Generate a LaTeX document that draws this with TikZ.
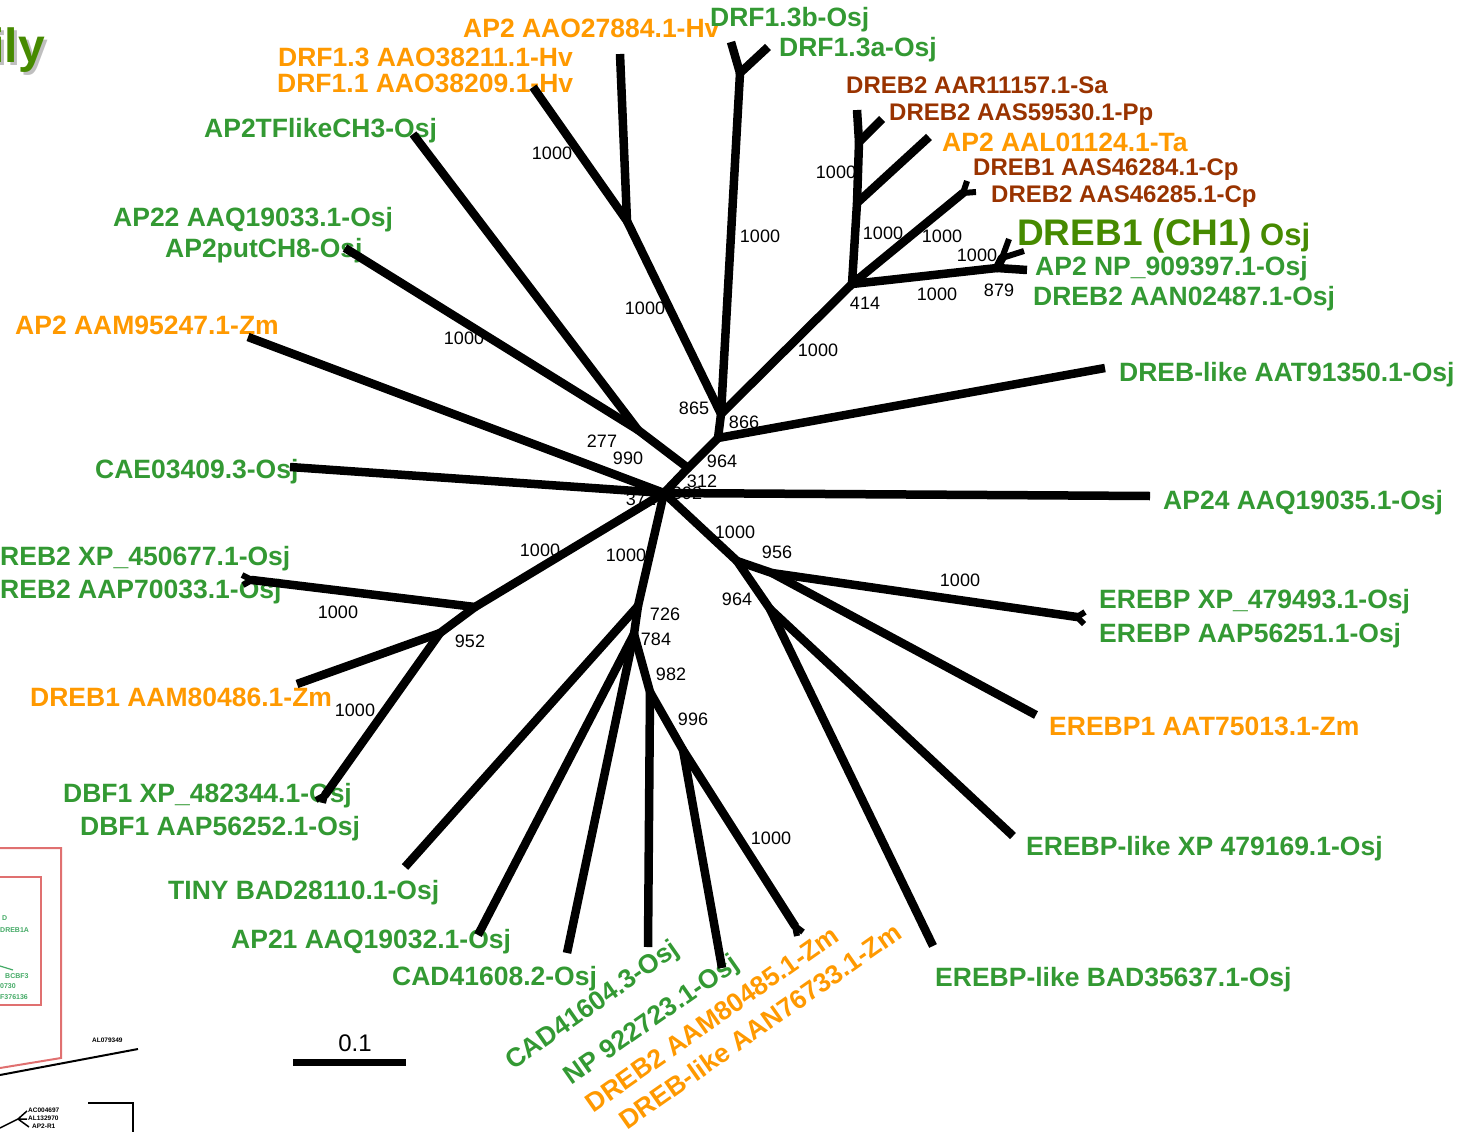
\documentclass[tikz,border=0pt]{standalone}
\usepackage{fontspec}
\setmainfont{Liberation Sans}
\definecolor{taxgreen}{HTML}{339933}
\definecolor{taxorange}{HTML}{FF9900}
\definecolor{taxbrown}{HTML}{993300}
\definecolor{leadgreen}{HTML}{468A00}
\definecolor{framered}{HTML}{E07070}
\definecolor{insetgreen}{HTML}{44AA66}

\begin{document}
\begin{tikzpicture}[x=1pt,y=-1pt,
  branch/.style={line width=8.5pt},
  stub/.style={line width=6pt},
  knot/.style={fill=black},
  taxon/.style={inner sep=0pt, anchor=base west, font=\bfseries\fontsize{26.5}{30}\selectfont},
  taxsmall/.style={inner sep=0pt, anchor=base west, font=\bfseries\fontsize{24}{28}\selectfont},
  tilted/.style={inner sep=0pt, anchor=center, rotate=35, font=\bfseries\fontsize{26.5}{30}\selectfont},
  boot/.style={inner sep=0pt, anchor=center, font=\fontsize{18}{20}\selectfont},
  tiny/.style={inner sep=0pt, anchor=west, font=\bfseries\fontsize{7}{8}\selectfont},
  rice/.style={text=taxgreen}, maize/.style={text=taxorange}, dicot/.style={text=taxbrown}]

\useasboundingbox (0,0) rectangle (1464,1132);

% ---------- title fragment ----------
\node[inner sep=0pt, anchor=base east, text=black!25, font=\bfseries\fontsize{48}{50}\selectfont] (ttlshadow) at (48,66) {ily};
\node[inner sep=0pt, anchor=base east, text=leadgreen, font=\bfseries\fontsize{48}{50}\selectfont] (ttl) at (45,63) {ily};

% ---------- inset fragment, lower left ----------
\coordinate (fa) at (0,848);  \coordinate (fb) at (61,848);
\coordinate (fc) at (61,1058); \coordinate (fd) at (0,1068);
\draw[framered, line width=2pt] (fa) -- (fb) -- (fc) -- (fd);
\coordinate (ga) at (0,877);  \coordinate (gb) at (41,877);
\coordinate (gc) at (41,1005); \coordinate (gd) at (0,1005);
\draw[framered, line width=1.3pt] (ga) -- (gb) -- (gc) -- (gd);
\node[tiny, text=insetgreen] (i1) at (2,918) {D};
\node[tiny, text=insetgreen] (i2) at (0,930) {DREB1A};
\node[tiny, text=insetgreen] (i3) at (5,976) {BCBF3};
\node[tiny, text=insetgreen] (i4) at (0,986) {0730};
\node[tiny, text=insetgreen] (i5) at (0,997) {F376136};
\coordinate (ia) at (0,966); \coordinate (ib) at (13,970);
\draw[insetgreen, line width=1.2pt] (ia) -- (ib);
\coordinate (la) at (0,1075); \coordinate (lb) at (138,1049);
\draw[black, line width=2pt] (la) -- (lb);
\node[tiny, text=black, font=\bfseries\fontsize{6.5}{7}\selectfont] (i6) at (92,1040) {AL079349};
\coordinate (ka) at (88,1103); \coordinate (kb) at (133,1103); \coordinate (kc) at (133,1132);
\draw[black, line width=2pt] (ka) -- (kb) -- (kc);
\node[tiny, text=black, font=\bfseries\fontsize{6.5}{7}\selectfont] (i7) at (28,1110) {AC004697};
\node[tiny, text=black, font=\bfseries\fontsize{6.5}{7}\selectfont] (i8) at (28,1118) {AL132970};
\node[tiny, text=black, font=\bfseries\fontsize{6.5}{7}\selectfont] (i9) at (32,1126) {AP2-R1};
\coordinate (ma) at (0,1128); \coordinate (mb) at (18,1119);
\coordinate (mc) at (27,1111); \coordinate (md) at (27,1119); \coordinate (me) at (29,1127);
\draw[black, line width=1.5pt] (ma) -- (mb) -- (mc) (mb) -- (md) (mb) -- (me);

% ---------- bootstrap values ----------
\node[boot] (b01) at (552,153) {1000};
\node[boot] (b02) at (760,236) {1000};
\node[boot] (b03) at (836,172) {1000};
\node[boot] (b04) at (883,233) {1000};
\node[boot] (b05) at (942,236) {1000};
\node[boot] (b06) at (977,255) {1000};
\node[boot] (b07) at (999,290) {879};
\node[boot] (b08) at (937,294) {1000};
\node[boot] (b09) at (865,303) {414};
\node[boot] (b10) at (645,308) {1000};
\node[boot] (b11) at (818,350) {1000};
\node[boot] (b12) at (464,338) {1000};
\node[boot] (b13) at (694,408) {865};
\node[boot] (b14) at (744,422) {866};
\node[boot] (b15) at (602,441) {277};
\node[boot] (b16) at (628,458) {990};
\node[boot] (b17) at (722,461) {964};
\node[boot] (b18) at (702,481) {312};
\node[boot] (b19) at (641,499) {372};
\node[boot] (b20) at (687,493) {392};
\node[boot] (b21) at (540,550) {1000};
\node[boot] (b22) at (626,555) {1000};
\node[boot] (b23) at (735,532) {1000};
\node[boot] (b24) at (777,552) {956};
\node[boot] (b25) at (960,580) {1000};
\node[boot] (b26) at (737,599) {964};
\node[boot] (b27) at (665,614) {726};
\node[boot] (b28) at (656,639) {784};
\node[boot] (b29) at (338,612) {1000};
\node[boot] (b30) at (470,641) {952};
\node[boot] (b31) at (671,674) {982};
\node[boot] (b32) at (355,710) {1000};
\node[boot] (b33) at (693,719) {996};
\node[boot] (b34) at (771,838) {1000};

% ---------- taxon labels ----------
\node[taxon, maize] (lAAO)   at (463,37.5)  {AP2 AAO27884.1-Hv};
\node[taxon, maize] (lDRF13) at (278,66.5)  {DRF1.3 AAO38211.1-Hv};
\node[taxon, maize] (lDRF11) at (277,92.5)  {DRF1.1 AAO38209.1-Hv};
\node[taxon, rice]  (lDRFb)  at (710,26.5)  {DRF1.3b-Osj};
\node[taxon, rice]  (lDRFa)  at (779,56.5)  {DRF1.3a-Osj};
\node[taxon, rice]  (lTF)    at (204,137.5) {AP2TFlikeCH3-Osj};
\node[taxon, rice]  (lAP22)  at (113,226.5) {AP22 AAQ19033.1-Osj};
\node[taxon, rice]  (lPut)   at (165,257.5) {AP2putCH8-Osj};
\node[taxon, maize] (lZm95)  at (15,334.5)  {AP2 AAM95247.1-Zm};
\node[taxon, rice]  (lCAE)   at (95,478.5)  {CAE03409.3-Osj};
\node[taxon, rice]  (lX450)  at (0,565.5)   {REB2 XP\_450677.1-Osj};
\node[taxon, rice]  (lAAP7)  at (0,598.5)   {REB2 AAP70033.1-Osj};
\node[taxon, maize] (lZm86)  at (30,706.5)  {DREB1 AAM80486.1-Zm};
\node[taxon, rice]  (lDBFx)  at (63,802.5)  {DBF1 XP\_482344.1-Osj};
\node[taxon, rice]  (lDBFa)  at (80,835.5)  {DBF1 AAP56252.1-Osj};
\node[taxon, rice]  (lTINY)  at (168,899.5) {TINY BAD28110.1-Osj};
\node[taxon, rice]  (lAP21)  at (231,948.5) {AP21 AAQ19032.1-Osj};
\node[taxon, rice]  (lCAD08) at (392,985.5) {CAD41608.2-Osj};
\node[tilted, rice]  (lCAD04) at (593,1006) {CAD41604.3-Osj};
\node[tilted, rice]  (lNP92)  at (652,1021) {NP 922723.1-Osj};
\node[tilted, maize] (lZm85)  at (712,1019) {DREB2 AAM80485.1-Zm};
\node[tilted, maize] (lZm76)  at (760,1026) {DREB-like AAN76733.1-Zm};

\node[taxsmall, dicot] (lSa)  at (846,93.6)  {DREB2 AAR11157.1-Sa};
\node[taxsmall, dicot] (lPp)  at (889,120.6) {DREB2 AAS59530.1-Pp};
\node[taxon, maize]    (lTa)  at (942,151.5) {AP2 AAL01124.1-Ta};
\node[taxsmall, dicot] (lCp1) at (973,175.6) {DREB1 AAS46284.1-Cp};
\node[taxsmall, dicot] (lCp2) at (991,202.6) {DREB2 AAS46285.1-Cp};
\node[inner sep=0pt, anchor=base west, text=leadgreen, font=\bfseries] (lCH1) at (1017,245)
  {{\fontsize{37}{40}\selectfont DREB1 (CH1)}{\fontsize{31}{34}\selectfont\ Osj}};
\node[taxon, rice]  (lNP9)   at (1035,275.5) {AP2 NP\_909397.1-Osj};
\node[taxon, rice]  (lAAN)   at (1033,305.5) {DREB2 AAN02487.1-Osj};
\node[taxon, rice]  (lDl)    at (1119,381.5) {DREB-like AAT91350.1-Osj};
\node[taxon, rice]  (lAP24)  at (1163,509.5) {AP24 AAQ19035.1-Osj};
\node[taxon, rice]  (lER1)   at (1099,608.5) {EREBP XP\_479493.1-Osj};
\node[taxon, rice]  (lER2)   at (1099,642.5) {EREBP AAP56251.1-Osj};
\node[taxon, maize] (lER3)   at (1049,735.5) {EREBP1 AAT75013.1-Zm};
\node[taxon, rice]  (lXP)    at (1026,855.5) {EREBP-like XP 479169.1-Osj};
\node[taxon, rice]  (lBAD)   at (935,986.5)  {EREBP-like BAD35637.1-Osj};

% ---------- tree: internal nodes ----------
\coordinate (c0)   at (664,493);
\coordinate (n312) at (688,468);
\coordinate (j1)   at (638,430);
\coordinate (ndl)  at (718,438);
\coordinate (ntop) at (721,414);
\coordinate (h1)   at (627,221);
\coordinate (d1)   at (740,73);
\coordinate (n414) at (852,284);
\coordinate (nc1)  at (857,203);
\coordinate (nc2)  at (859,142);
\coordinate (ncp)  at (963,193);
\coordinate (n879) at (997,268);
\coordinate (nosj) at (1002,258);
\coordinate (nl1)  at (475,607);
\coordinate (n952) at (440,633);
\coordinate (n726) at (638,606);
\coordinate (n784) at (634,634);
\coordinate (n982) at (650,692);
\coordinate (n996) at (683,750);
\coordinate (nr)   at (737,561);
\coordinate (n956) at (772,573);
\coordinate (n964) at (770,609);
% small terminal forks
\coordinate (fX)   at (252,580);
\coordinate (fDBF) at (325,795);
\coordinate (fER)  at (1077,617);
\coordinate (fZm)  at (795,926);

% ---------- tree: tips ----------
\coordinate (tAP24)  at (1150,496);
\coordinate (tCAE)   at (290,467);
\coordinate (tZm95)  at (248,337);
\coordinate (tTF)    at (413,134);
\coordinate (tPut)   at (345,248);
\coordinate (tDl)    at (1105,368);
\coordinate (tAAO)   at (620,54);
\coordinate (tDRF11) at (533,87);
\coordinate (tDRFb)  at (731,42);
\coordinate (tDRFa)  at (768,47);
\coordinate (tSa)    at (857,110);
\coordinate (tPp)    at (882,119);
\coordinate (tTa)    at (929,137);
\coordinate (tCp1)   at (967,181);
\coordinate (tCp2)   at (976,192);
\coordinate (tAAN)   at (1027,270);
\coordinate (tCH1)   at (1009,239);
\coordinate (tNP9)   at (1024,251);
\coordinate (tX1)    at (242,575);
\coordinate (tX2)    at (243,585);
\coordinate (tZm86)  at (297,684);
\coordinate (tDBF1)  at (316,800);
\coordinate (tDBF2)  at (323,803);
\coordinate (tTINY)  at (405,867);
\coordinate (tAP21)  at (478,935);
\coordinate (tCAD08) at (567,953);
\coordinate (tCAD04) at (648,947);
\coordinate (tNP92)  at (722,968);
\coordinate (tZm1)   at (797,936);
\coordinate (tZm2)   at (803,932);
\coordinate (tER1)   at (1085,612);
\coordinate (tER2)   at (1084,624);
\coordinate (tER3)   at (1036,715);
\coordinate (tXP)    at (1013,836);
\coordinate (tBAD)   at (933,946);

% ---------- tree: branches ----------
\draw[branch] (c0) -- (tAP24);
\draw[branch] (c0) -- (tCAE);
\draw[branch] (c0) -- (tZm95);
\draw[branch] (c0) -- (n312);
\draw[branch] (n312) -- (j1);
\draw[branch] (j1) -- (tTF);
\draw[branch] (j1) -- (tPut);
\draw[branch] (n312) -- (ndl);
\draw[branch] (ndl) -- (tDl);
\draw[branch] (ndl) -- (ntop);
\draw[branch] (ntop) -- (h1);
\draw[branch] (h1) -- (tAAO);
\draw[branch] (h1) -- (tDRF11);
\draw[branch] (ntop) -- (d1);
\draw[branch] (d1) -- (tDRFb);
\draw[branch] (d1) -- (tDRFa);
\draw[branch] (ntop) -- (n414);
\draw[branch] (n414) -- (nc1);
\draw[branch] (nc1) -- (nc2);
\draw[branch] (nc2) -- (tSa);
\draw[branch] (nc2) -- (tPp);
\draw[branch] (nc1) -- (tTa);
\draw[branch] (n414) -- (ncp);
\draw[stub]   (ncp) -- (tCp1);
\draw[stub]   (ncp) -- (tCp2);
\draw[branch] (n414) -- (n879);
\draw[branch] (n879) -- (tAAN);
\draw[branch] (n879) -- (nosj);
\draw[stub]   (nosj) -- (tCH1);
\draw[stub]   (nosj) -- (tNP9);

\draw[branch] (c0) -- (nl1);
\draw[branch] (nl1) -- (fX);
\draw[stub]   (fX) -- (tX1);
\draw[stub]   (fX) -- (tX2);
\draw[branch] (nl1) -- (n952);
\draw[branch] (n952) -- (tZm86);
\draw[branch] (n952) -- (fDBF);
\draw[stub]   (fDBF) -- (tDBF1);
\draw[stub]   (fDBF) -- (tDBF2);

\draw[branch] (c0) -- (n726);
\draw[branch] (n726) -- (tTINY);
\draw[branch] (n726) -- (n784);
\draw[branch] (n784) -- (tAP21);
\draw[branch] (n784) -- (tCAD08);
\draw[branch] (n784) -- (n982);
\draw[branch] (n982) -- (tCAD04);
\draw[branch] (n982) -- (n996);
\draw[branch] (n996) -- (tNP92);
\draw[branch] (n996) -- (fZm);
\draw[stub]   (fZm) -- (tZm1);
\draw[stub]   (fZm) -- (tZm2);

\draw[branch] (c0) -- (nr);
\draw[branch] (nr) -- (n956);
\draw[branch] (n956) -- (fER);
\draw[stub]   (fER) -- (tER1);
\draw[stub]   (fER) -- (tER2);
\draw[branch] (n956) -- (tER3);
\draw[branch] (nr) -- (n964);
\draw[branch] (n964) -- (tXP);
\draw[branch] (n964) -- (tBAD);

% rounded joints at the internal nodes
\foreach \k in {c0,n312,j1,ndl,ntop,h1,d1,n414,nc1,nc2,ncp,n879,nosj,nl1,n952,n726,n784,n982,n996,nr,n956,n964,fX,fDBF,fER,fZm}
  \fill[knot] (\k) circle (4.25pt);

% ---------- scale bar ----------
\coordinate (sbA) at (293,1062);
\coordinate (sbB) at (406,1062);
\draw[line width=7pt] (sbA) -- (sbB);
\node[inner sep=0pt, font=\fontsize{24}{26}\selectfont] (sbL) at (355,1043) {0.1};

\end{tikzpicture}
\end{document}
